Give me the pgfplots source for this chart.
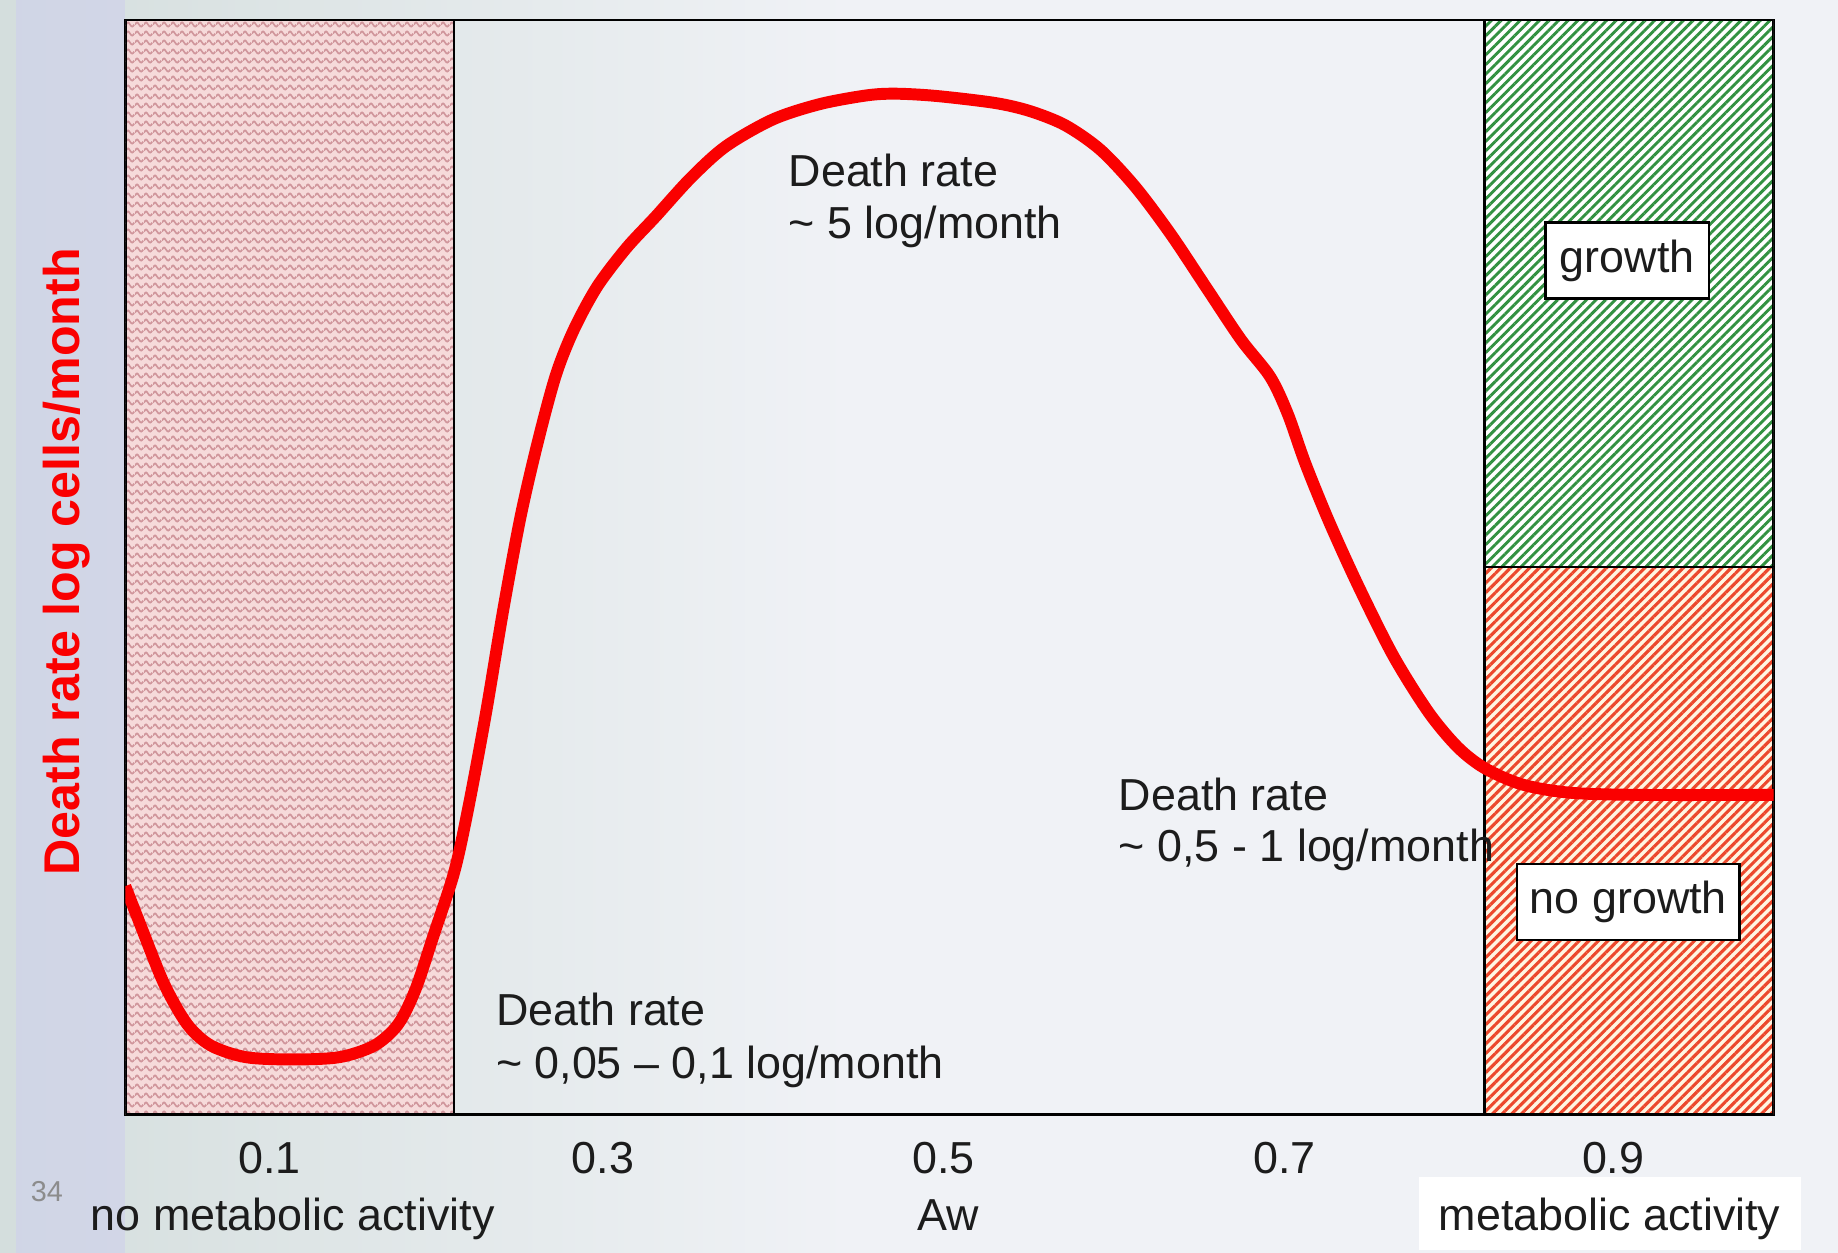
\documentclass[border=0pt]{standalone}
\usepackage{pgfplots}
\pgfplotsset{compat=1.18}
\usepackage{fontspec}
\setmainfont{Liberation Sans}
\usetikzlibrary{patterns.meta}

\definecolor{bgc}{RGB}{240,242,246}
\definecolor{texc}{RGB}{212,222,221}
\definecolor{lav}{RGB}{206,208,236}
\definecolor{pinkbase}{RGB}{246,218,218}
\definecolor{pinkwave}{RGB}{208,150,156}
\definecolor{greenline}{RGB}{50,145,65}
\definecolor{redline}{RGB}{236,72,44}
\definecolor{redbase}{RGB}{255,246,226}
\definecolor{curvered}{RGB}{250,0,0}
\definecolor{txt}{RGB}{28,28,28}

\tikzdeclarepattern{
  name=wavy,
  type=uncolored,
  bounding box={(0pt,0pt) and (2.2pt,2.2pt)},
  tile size={(2.2pt,2.2pt)},
  code={
    \draw[line width=0.45pt] (0pt,0.9pt) .. controls (0.5pt,1.7pt) and (0.6pt,1.7pt) .. (1.1pt,0.9pt)
      .. controls (1.6pt,0.2pt) and (1.7pt,0.2pt) .. (2.2pt,0.9pt);
  }
}

\newcommand{\lbl}{\fontsize{10.9pt}{13pt}\selectfont}

\begin{document}
\begin{tikzpicture}
% page and background
\path[use as bounding box] (-1.07,-1.18) rectangle (14.63,9.52);
\fill[bgc] (-1.07,-1.18) rectangle (14.63,9.52);
\shade[left color=texc, right color=bgc] (-1.07,-1.18) rectangle (6.2,9.52);
\fill[lav, opacity=0.6] (-0.93,-1.18) rectangle (0,9.52);

\begin{axis}[
    at={(0,0)}, anchor=south west,
    scale only axis,
    width=14.08cm, height=9.35cm,
    xmin=0.0143, xmax=0.9955,
    ymin=0, ymax=10,
    axis line style={black, line width=0.6pt},
    ytick=\empty,
    xtick={0.1,0.2986,0.5014,0.7042,0.9},
    xticklabels={0.1,0.3,0.5,0.7,0.9},
    major tick length=0pt,
    /pgf/number format/assume math mode=true,
    xticklabel style={font=\lbl, text=txt, anchor=base, yshift=-0.5cm},
]
% zones
\addplot[draw=black, line width=0.6pt, fill=pinkbase,
    postaction={pattern=wavy, pattern color=pinkwave}]
    coordinates {(0.0143,0) (0.2101,0) (0.2101,10) (0.0143,10)} -- cycle;
\addplot[draw=black, line width=0.6pt, fill=white,
    postaction={pattern={Lines[angle=45,distance=1.65pt,line width=0.7pt]}, pattern color=greenline}]
    coordinates {(0.8233,5) (0.9955,5) (0.9955,10) (0.8233,10)} -- cycle;
\addplot[draw=black, line width=0.6pt, fill=redbase,
    postaction={pattern={Lines[angle=45,distance=1.65pt,line width=0.75pt]}, pattern color=redline}]
    coordinates {(0.8233,0) (0.9955,0) (0.9955,5) (0.8233,5)} -- cycle;

% death rate curve
\addplot[smooth, tension=0.5, line width=2.9pt, color=curvered] coordinates {
(0.0143,2.086) (0.0233,1.733) (0.0373,1.198) (0.0512,0.824) (0.0652,0.631)
(0.0861,0.524) (0.1139,0.503) (0.1418,0.524) (0.1627,0.631) (0.1767,0.824)
(0.1871,1.144) (0.1976,1.626) (0.2101,2.214) (0.2185,2.802) (0.2289,3.658)
(0.2394,4.620) (0.2498,5.476) (0.2603,6.171) (0.2707,6.759) (0.2812,7.166)
(0.2951,7.561) (0.3125,7.914) (0.3300,8.203) (0.3509,8.556) (0.3718,8.845)
(0.3997,9.090) (0.4275,9.230) (0.4554,9.310) (0.4728,9.326) (0.4972,9.305)
(0.5321,9.241) (0.5530,9.166) (0.5739,9.037) (0.5948,8.813) (0.6157,8.471)
(0.6366,8.043) (0.6575,7.561) (0.6784,7.080) (0.6958,6.740) (0.7063,6.400)
(0.7167,5.950) (0.7307,5.422) (0.7481,4.834) (0.7690,4.193) (0.7899,3.679)
(0.8073,3.358) (0.8233,3.166) (0.8456,3.016) (0.8735,2.941) (0.9153,2.920)
(0.9955,2.920)
};
\end{axis}

% zone labels
\node[draw=black, line width=0.6pt, fill=white, text=txt, font=\lbl,
    minimum width=1.40cm, minimum height=0.65cm, inner sep=0pt] at (12.83,7.295) {growth};
\node[draw=black, line width=0.6pt, fill=white, text=txt, font=\lbl,
    minimum width=1.90cm, minimum height=0.65cm, inner sep=0pt] at (12.84,1.815) {no growth};

% annotations
\node[anchor=base west, inner sep=0pt, text=txt, font=\lbl] at (5.66,7.93) {Death rate};
\node[anchor=base west, inner sep=0pt, text=txt, font=\lbl] at (5.66,7.48) {\textasciitilde\ 5 log/month};
\node[anchor=base west, inner sep=0pt, text=txt, font=\lbl] at (8.48,2.60) {Death rate};
\node[anchor=base west, inner sep=0pt, text=txt, font=\lbl] at (8.48,2.16) {\textasciitilde\ 0,5 - 1 log/month};
\node[anchor=base west, inner sep=0pt, text=txt, font=\lbl] at (3.16,0.76) {Death rate};
\node[anchor=base west, inner sep=0pt, text=txt, font=\lbl] at (3.16,0.31) {\textasciitilde\ 0,05 -- 0,1 log/month};

% axis texts
\node[anchor=base, inner sep=0pt, text=txt, font=\lbl] at (1.43,-0.99) {no metabolic activity};
\node[anchor=base, inner sep=0pt, text=txt, font=\lbl] at (7.03,-0.99) {Aw};
\fill[white] (11.05,-0.53) rectangle (14.31,-1.16);
\node[anchor=base, inner sep=0pt, text=txt, font=\lbl] at (12.68,-0.99) {metabolic activity};
\node[inner sep=0pt, text=black!45, font=\fontsize{7pt}{8pt}\selectfont] at (-0.67,-0.66) {34};
\node[rotate=90, inner sep=0pt, text=curvered, font=\fontsize{12.2pt}{14pt}\selectfont\bfseries] at (-0.5,4.72) {Death rate log cells/month};
\end{tikzpicture}
\end{document}
